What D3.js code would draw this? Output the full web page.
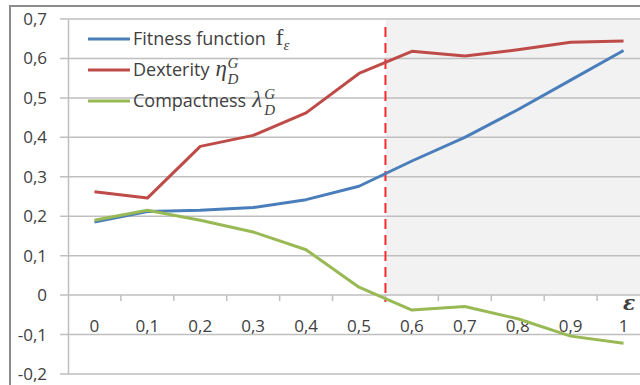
<!DOCTYPE html>
<html>
<head>
<meta charset="utf-8">
<script src="https://cdn.jsdelivr.net/npm/d3@7"></script>
<style>
  body { margin: 0; background: #fff; }
  text { font-family: "Open Sans", "Noto Sans", sans-serif; fill: #404040; }
</style>
</head>
<body>
<div id="chart"></div>
<script>
// values
var eps = ["0", "0,1", "0,2", "0,3", "0,4", "0,5", "0,6", "0,7", "0,8", "0,9", "1"];
var fitness = [0.185, 0.212, 0.215, 0.222, 0.242, 0.276, 0.34, 0.40, 0.47, 0.545, 0.62];
var dexterity = [0.262, 0.246, 0.377, 0.405, 0.462, 0.562, 0.618, 0.606, 0.622, 0.641, 0.644];
var compactness = [0.19, 0.215, 0.19, 0.16, 0.115, 0.02, -0.038, -0.029, -0.06, -0.104, -0.122];
var yTicks = [-0.2, -0.1, 0, 0.1, 0.2, 0.3, 0.4, 0.5, 0.6, 0.7];
var threshold = 0.55;

var W = 640, H = 385;
var svg = d3.select("#chart").append("svg")
    .attr("width", W)
    .attr("height", H);

var x = d3.scalePoint().domain(eps).range([68, 650]).padding(0.5);
var step = x.step();
var y = d3.scaleLinear().domain([-0.2, 0.7]).range([374, 19]);

// outer frame
svg.append("path")
    .attr("d", "M10," + H + "V6H" + W)
    .attr("fill", "none")
    .attr("stroke", "#8c8c8c")
    .attr("stroke-width", 2);

// shaded region right of the threshold
var xThr = x("0,5") + (threshold - 0.5) / 0.1 * step;
svg.append("rect")
    .attr("x", xThr)
    .attr("y", y(0.7))
    .attr("width", W - xThr)
    .attr("height", y(0) - y(0.7))
    .attr("fill", "#f2f2f2");

// gridlines
svg.append("g").selectAll("line")
  .data(yTicks)
  .enter()
    .append("line")
    .attr("x1", 60)
    .attr("x2", W)
    .attr("y1", function(d) { return y(d); })
    .attr("y2", function(d) { return y(d); })
    .attr("stroke", "#bfbfbf")
    .attr("stroke-width", 1.5);

// y axis
var yAxis = svg.append("g")
    .attr("transform", "translate(68,0)")
    .call(d3.axisLeft(y).tickValues(yTicks).tickSize(0).tickPadding(21)
      .tickFormat(function(d) { return d3.format(".1f")(d).replace(".", ",").replace("0,0", "0").replace("−", "-"); }));
yAxis.select(".domain").attr("stroke", "#bfbfbf").attr("stroke-width", 1.5);
yAxis.selectAll("text")
    .style("font-size", "17px")
    .attr("fill", "#404040");

// x axis ticks on the zero line
svg.append("g").selectAll("line")
  .data(eps.slice(1))
  .enter()
    .append("line")
    .attr("x1", function(d) { return x(d) - step / 2; })
    .attr("x2", function(d) { return x(d) - step / 2; })
    .attr("y1", y(0))
    .attr("y2", y(0) + 6)
    .attr("stroke", "#bfbfbf")
    .attr("stroke-width", 1.5);

svg.append("g").selectAll("text")
  .data(eps)
  .enter()
    .append("text")
    .attr("x", function(d) { return x(d); })
    .attr("y", 332)
    .attr("text-anchor", "middle")
    .style("font-size", "17px")
    .text(function(d) { return d; });

// epsilon axis title
svg.append("text")
    .attr("x", 629)
    .attr("y", 310)
    .attr("text-anchor", "middle")
    .style("font-family", "'DejaVu Serif', serif")
    .style("font-size", "20px")
    .style("font-weight", "bold")
    .style("font-style", "italic")
    .attr("fill", "#1a1a1a")
    .text("ε");

// threshold dashed line
svg.append("line")
    .attr("x1", xThr)
    .attr("x2", xThr)
    .attr("y1", 27)
    .attr("y2", 302)
    .attr("stroke", "#ff2a2a")
    .attr("stroke-width", 2)
    .attr("stroke-dasharray", "10,6");

// series
var series = [
  { name: "Fitness function", values: fitness, color: "#4a7ebb" },
  { name: "Dexterity", values: dexterity, color: "#be4b48" },
  { name: "Compactness", values: compactness, color: "#98b954" }
];

var line = d3.line()
    .x(function(d, i) { return x(eps[i]); })
    .y(function(d) { return y(d); });

svg.append("g").selectAll("path")
  .data(series)
  .enter()
    .append("path")
    .attr("fill", "none")
    .attr("stroke", function(d) { return d.color; })
    .attr("stroke-width", 3)
    .attr("stroke-linejoin", "round")
    .attr("d", function(d) { return line(d.values); });

// legend
var legend = svg.append("g").selectAll("g")
  .data(series)
  .enter()
    .append("g")
    .attr("transform", function(d, i) { return "translate(88," + (39 + i * 31) + ")"; });

legend.append("line")
    .attr("x1", 0)
    .attr("x2", 42)
    .attr("stroke", function(d) { return d.color; })
    .attr("stroke-width", 3);

legend.append("text")
    .attr("x", 45)
    .attr("y", 6)
    .style("font-size", "18px")
    .attr("fill", "#262626")
    .text(function(d) { return d.name; });

// math symbols after each legend entry
var mathFont = "'Liberation Serif', 'DejaVu Serif', serif";
legend.each(function(d, i) {
  var g = d3.select(this);
  var w = g.select("text").node().getComputedTextLength();
  var x0 = 45 + w + (i === 0 ? 10 : 6);
  var t = g.append("text")
      .attr("x", x0)
      .attr("y", 6)
      .style("font-family", mathFont)
      .attr("fill", "#262626");
  if (i === 0) {
    t.append("tspan").style("font-size", "23px").text("f");
    t.append("tspan").attr("dy", 5).style("font-size", "15px").style("font-style", "italic").text("ε");
  } else {
    t.append("tspan").style("font-size", "23px").style("font-style", "italic").text(i === 1 ? "η" : "λ");
    var bx = x0 + 12;
    g.append("text")
        .attr("x", bx)
        .attr("y", -2)
        .style("font-family", mathFont)
        .style("font-size", "15px")
        .style("font-style", "italic")
        .attr("fill", "#262626")
        .text("G");
    g.append("text")
        .attr("x", bx)
        .attr("y", 14)
        .style("font-family", mathFont)
        .style("font-size", "15px")
        .style("font-style", "italic")
        .attr("fill", "#262626")
        .text("D");
  }
});
</script>
</body>
</html>
